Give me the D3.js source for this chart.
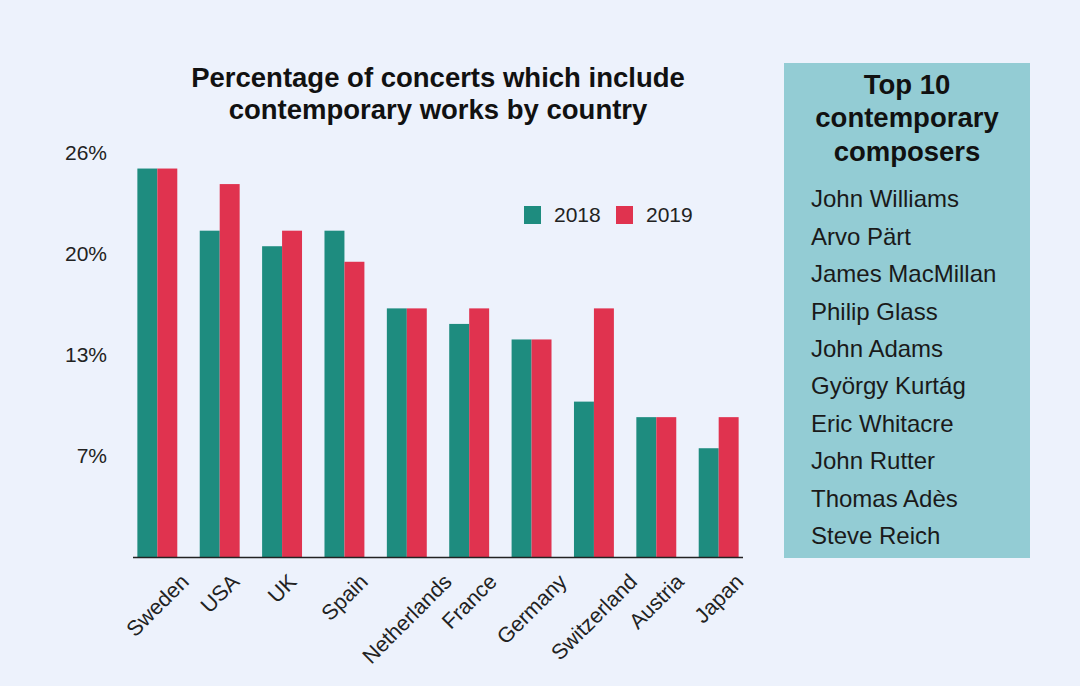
<!DOCTYPE html>
<html><head><meta charset="utf-8">
<script src="https://cdn.jsdelivr.net/npm/d3@7"></script>
<style>
html,body{margin:0;padding:0;background:#EDF2FC;}
svg{display:block;font-family:"Liberation Sans",Arial,Helvetica,sans-serif;}
</style></head>
<body>
<svg id="chart" width="1080" height="686"></svg>
<script>
const countries = ["Sweden","USA","UK","Spain","Netherlands","France","Germany","Switzerland","Austria","Japan"];
const values2018 = [25,21,20,21,16,15,14,10,9,7];
const values2019 = [25,24,21,19,16,16,14,16,9,9];
const seriesNames = ["2018","2019"];
const yTicks = [6.5,13,19.5,26];
const yTickLabels = ["7%","13%","20%","26%"];
const composers = ["John Williams","Arvo Pärt","James MacMillan","Philip Glass","John Adams","György Kurtág","Eric Whitacre","John Rutter","Thomas Adès","Steve Reich"];
const titleLines = ["Percentage of concerts which include","contemporary works by country"];
const boxTitle = ["Top 10","contemporary","composers"];

const colors = {"2018":"#1E8C7F","2019":"#E0334F"};
const svg = d3.select("#chart");
svg.append("rect").attr("width",1080).attr("height",686).attr("fill","#EDF2FC");

const x0 = d3.scaleBand().domain(countries).range([133,743]).paddingInner(0.36).paddingOuter(0.07);
const x1 = d3.scaleBand().domain(seriesNames).range([0,x0.bandwidth()]);
const y = d3.scaleLinear().domain([0,26]).range([557,153]);

const data = countries.map((c,i)=>({country:c, vals:[{k:"2018",v:values2018[i]},{k:"2019",v:values2019[i]}]}));

const g = svg.append("g");
g.selectAll("g.grp").data(data).join("g").attr("class","grp")
  .attr("transform",d=>`translate(${x0(d.country)},0)`)
  .selectAll("rect").data(d=>d.vals).join("rect")
  .attr("x",d=>x1(d.k)).attr("width",x1.bandwidth())
  .attr("y",d=>y(d.v)).attr("height",d=>y(0)-y(d.v))
  .attr("fill",d=>colors[d.k]);

// x axis line
svg.append("line").attr("x1",133).attr("x2",743).attr("y1",557.5).attr("y2",557.5)
  .attr("stroke","#222").attr("stroke-width",1.3);

// y tick labels
svg.selectAll("text.ytick").data(yTicks).join("text").attr("class","ytick")
  .attr("x",107).attr("y",d=>y(d)).attr("dy","0.35em").attr("text-anchor","end")
  .attr("font-size",21).attr("fill","#222").text((d,i)=>yTickLabels[i]);

// x labels: rotated -45, bounding box centred on the group and top-aligned
const labFont = 21.5, labTop = 572;
svg.selectAll("text.xlab").data(countries).join("text").attr("class","xlab")
  .attr("text-anchor","middle").attr("dy","0.35em")
  .attr("font-size",labFont).attr("fill","#222").text(d=>d)
  .each(function(d){
    const L = this.getComputedTextLength();
    const h = labFont*0.75;
    const cy = labTop + (L + h)*Math.SQRT1_2/2;
    d3.select(this).attr("transform",`translate(${x0(d)+x0.bandwidth()/2},${cy}) rotate(-45)`);
  });

// title
svg.selectAll("text.title").data(titleLines).join("text").attr("class","title")
  .attr("x",438).attr("y",(d,i)=>77+i*32).attr("dy","0.35em").attr("text-anchor","middle")
  .attr("font-size",27.5).attr("font-weight","bold").attr("fill","#111").text(d=>d);

// legend
const leg = svg.append("g");
const legX = [524,616];
seriesNames.forEach((s,i)=>{
  leg.append("rect").attr("x",legX[i]).attr("y",206).attr("width",17).attr("height",18).attr("fill",colors[s]);
  leg.append("text").attr("x",legX[i]+30).attr("y",215).attr("dy","0.35em").attr("font-size",21).attr("fill","#222").text(s);
});

// side box
svg.append("rect").attr("x",784).attr("y",63).attr("width",246).attr("height",495).attr("fill","#93CCD4");
svg.selectAll("text.btitle").data(boxTitle).join("text").attr("class","btitle")
  .attr("x",907).attr("y",(d,i)=>84+i*33.5).attr("dy","0.35em").attr("text-anchor","middle")
  .attr("font-size",27.5).attr("font-weight","bold").attr("fill","#111").text(d=>d);
svg.selectAll("text.comp").data(composers).join("text").attr("class","comp")
  .attr("x",811).attr("y",(d,i)=>199+i*37.4).attr("dy","0.35em")
  .attr("font-size",24).attr("fill","#1a1a1a").text(d=>d);
</script>
</body></html>
